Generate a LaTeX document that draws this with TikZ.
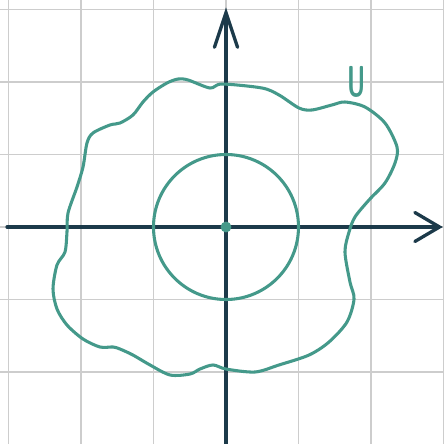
\documentclass[tikz,border=0pt]{standalone}
\usepackage{xcolor}
\usepackage{tikz}
\usetikzlibrary{arrows.meta,positioning}
\definecolor{setteal}{RGB}{68,153,138}
\definecolor{axisnavy}{RGB}{28,58,74}
\definecolor{gridgrey}{RGB}{205,205,205}

\begin{document}
\begin{tikzpicture}[
    gridline/.style={draw=gridgrey, line width=0.6pt},
    axis/.style={draw=axisnavy, line width=1.3pt, line cap=round},
    setline/.style={draw=setteal, line width=1.2pt, line join=round},
    origin/.style={circle, fill=setteal, inner sep=0pt, minimum size=0.15cm},
    setlabel/.style={text=setteal, font=\sffamily\bfseries\fontsize{17}{17}\selectfont, xscale=0.55, inner sep=0pt}
]
\useasboundingbox[fill=white] (-3.117,-2.993) rectangle (3.007,3.131);

% Grid
\foreach \k in {-3,...,3} {
  \draw[gridline] (\k,-3.2) -- (\k,3.2);
  \draw[gridline] (-3.2,\k) -- (3.2,\k);
}

% Axes
\coordinate (xl) at (-3.02,0);
\coordinate (xr) at (2.99,0);
\coordinate (yb) at (0,-3.1);
\coordinate (yt) at (0,3.03);
\draw[axis, -{Straight Barb[length=0.34cm, width=0.4cm, line cap=round]}] (xl) -- (xr);
\draw[axis, -{Straight Barb[length=0.48cm, width=0.32cm, line cap=round]}] (yb) -- (yt);

% Centre point and disc
\node[origin] (o) at (0,0) {};
\draw[setline] (o.center) circle (1);

% The set U
\draw[setline] plot[smooth cycle, tension=0.5] coordinates {
  (-0.055,1.972) (0.497,1.917) (0.731,1.821) (1.007,1.641) (1.186,1.614)
  (1.462,1.683) (1.641,1.724) (1.917,1.655) (2.193,1.434) (2.359,1.103)
  (2.331,0.883) (2.193,0.607) (1.972,0.372) (1.779,0.138) (1.697,-0.069)
  (1.641,-0.345) (1.710,-0.759) (1.766,-0.993) (1.669,-1.310) (1.421,-1.586)
  (1.145,-1.766) (0.731,-1.903) (0.400,-2.000) (0,-1.959) (-0.179,-1.903)
  (-0.359,-1.959) (-0.497,-2.028) (-0.772,-2.041) (-1.048,-1.903) (-1.283,-1.766)
  (-1.462,-1.683) (-1.559,-1.655) (-1.738,-1.655) (-1.972,-1.545) (-2.193,-1.352)
  (-2.331,-1.131) (-2.386,-0.855) (-2.331,-0.524) (-2.221,-0.345) (-2.193,-0.069)
  (-2.179,0.193) (-2.055,0.552) (-1.972,0.828) (-1.917,1.159) (-1.834,1.297)
  (-1.600,1.407) (-1.462,1.434) (-1.283,1.545) (-1.145,1.724) (-1.007,1.862)
  (-0.814,1.986) (-0.662,2.041) (-0.524,2.028) (-0.221,1.917)
};

% Label
\node[setlabel] (u) at (1.807,1.998) {U};

\end{tikzpicture}
\end{document}
